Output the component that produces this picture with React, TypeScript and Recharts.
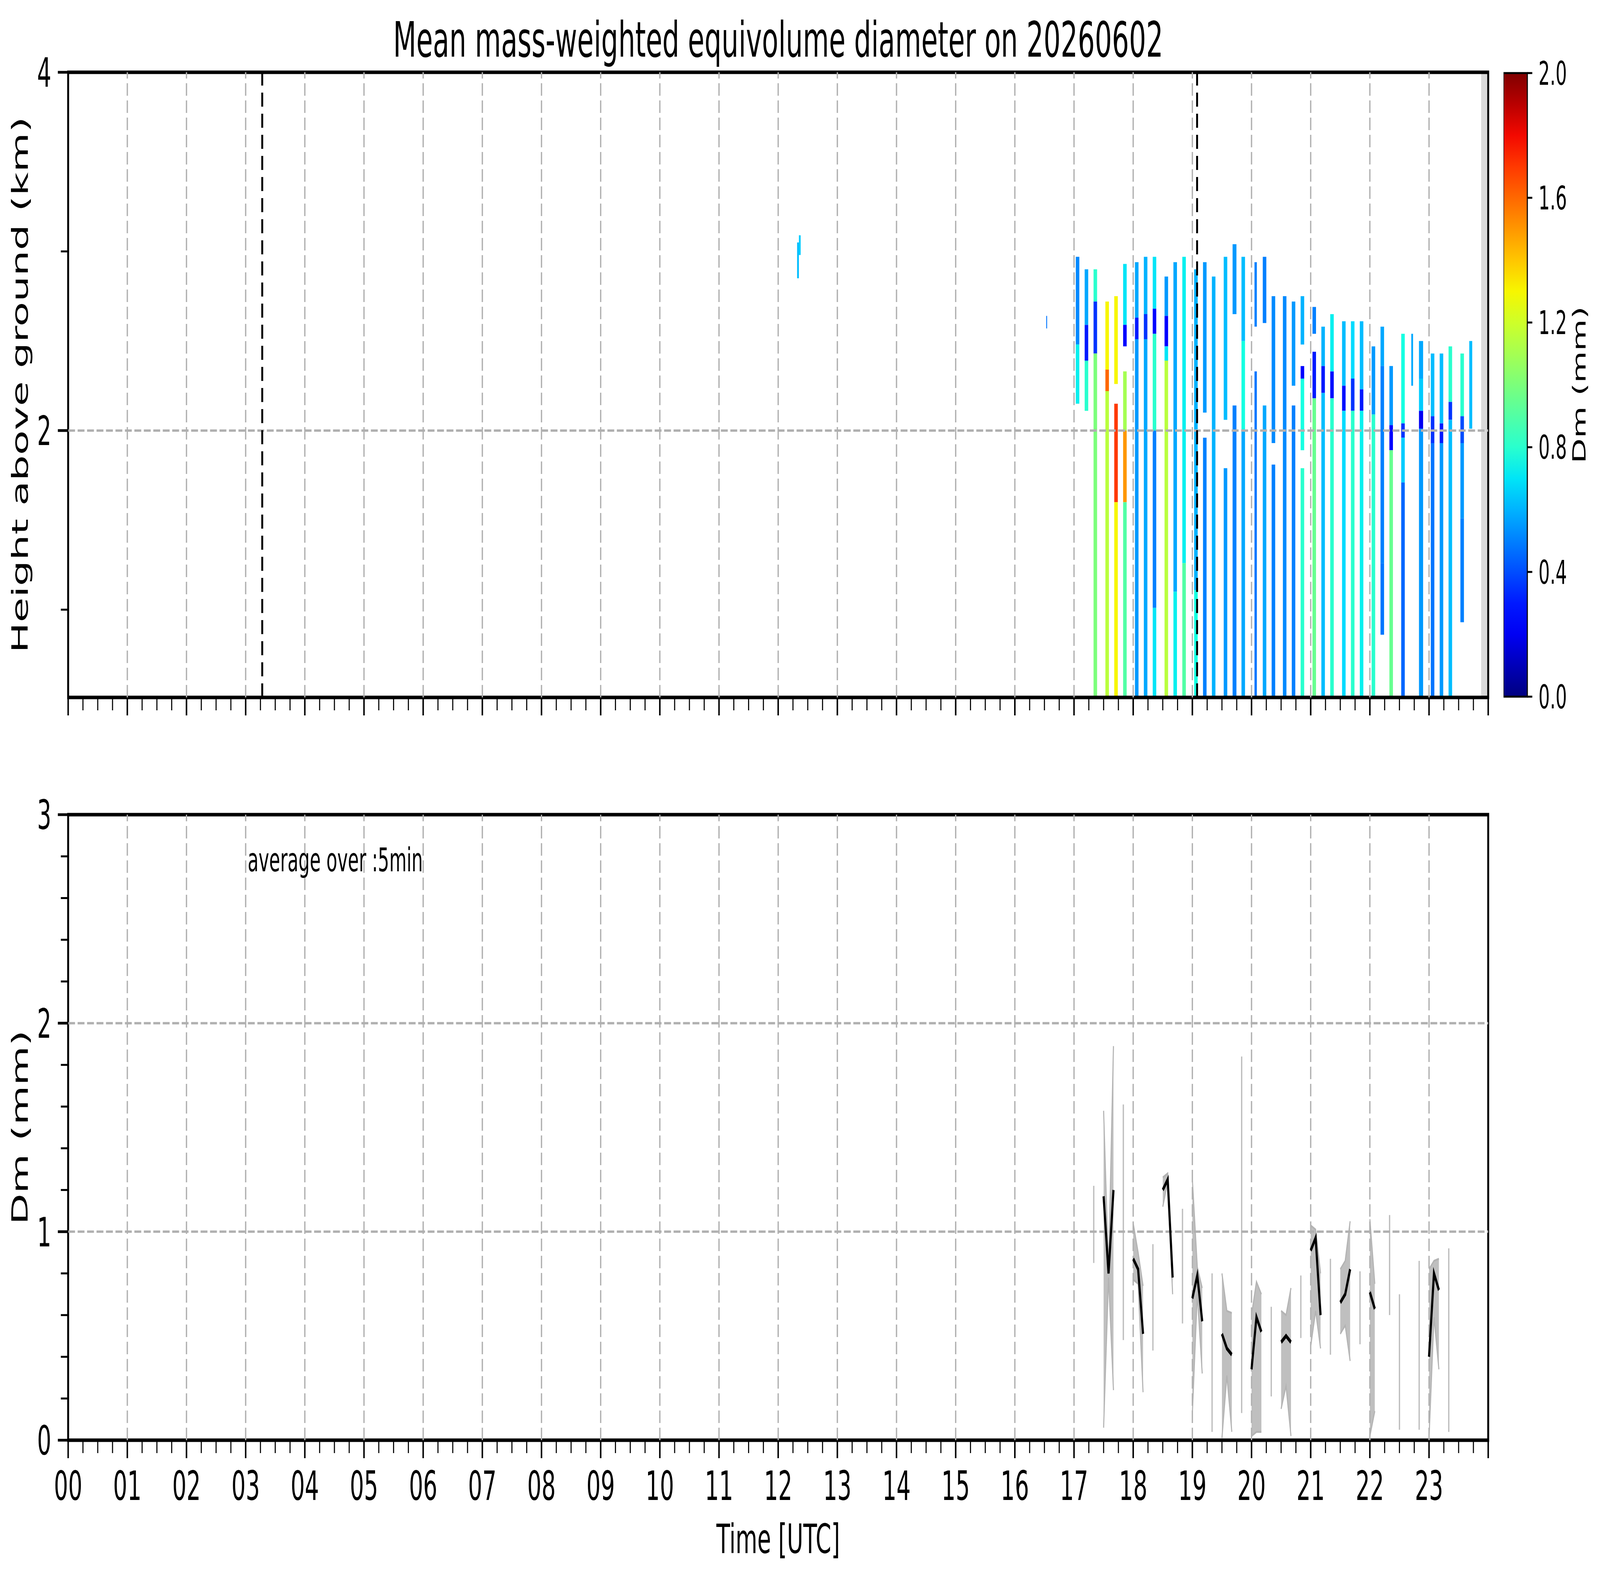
import React from 'react';
import {
  ComposedChart,
  BarChart,
  Bar,
  Area,
  Line,
  XAxis,
  YAxis,
  ReferenceArea,
  ReferenceLine,
} from 'recharts';

// figure geometry (pixels of the 7442x4031 picture)
const FIG_W = 7442;
const FIG_H = 4031;
const FONT = '"DejaVu Sans", Verdana, sans-serif';
const PLOT_LEFT = 317;
const PLOT_RIGHT = 6922;
const AXIS_W = 100;
const AXIS_H = 60;
const TOP_CHART_H = 1900;
const TOP_PLOT_TOP = 185;
const TOP_PLOT_BOTTOM = 1785;
const BOTTOM_CHART_H = FIG_H - TOP_CHART_H;
const BOTTOM_PLOT_TOP = 2085;
const BOTTOM_PLOT_BOTTOM = 3686;
const CB_LEFT = 6993;
const CB_RIGHT = 7104;

// time axis
const hourLabels = [
  '00', '01', '02', '03', '04', '05', '06', '07', '08', '09', '10', '11',
  '12', '13', '14', '15', '16', '17', '18', '19', '20', '21', '22', '23',
];
const gridHours = [1, 2, 3, 4, 5, 6, 7, 8, 9, 10, 11, 12, 13, 14, 15, 16, 17, 18, 19, 20, 21, 22, 23];
const quarterTicks = Array.from({ length: 97 }, (_, i) => i / 4);

// upper panel: height above ground (km)
const heightMin = 0.51;
const heightMax = 4;
const heightTicks = [1, 2, 3, 4];
const heightLabelled = [2, 4];
const heightGrid = [2];

// sunrise / sunset markers and the no-data band at the end of the day
const dayMarks = [3.28, 19.08];
const noDataStart = 23.88;

// radar scans: start / end (hour UTC) and layers [top km, bottom km, Dm mm]
const stripeStart = [
  12.32, 12.35, 16.53,
  17.03, 17.18, 17.33, 17.53, 17.68, 17.83,
  18.03, 18.18, 18.33, 18.53, 18.68, 18.83,
  19.03, 19.18, 19.33, 19.53, 19.68, 19.83,
  20.05, 20.19, 20.34, 20.53, 20.68, 20.83,
  21.03, 21.18, 21.33, 21.53, 21.68, 21.83,
  22.03, 22.18, 22.33, 22.53, 22.7, 22.83,
  23.03, 23.18, 23.33, 23.53, 23.68,
];
const stripeEnd = [
  12.35, 12.38, 16.545,
  17.09, 17.24, 17.39, 17.59, 17.74, 17.89,
  18.09, 18.24, 18.39, 18.59, 18.74, 18.89,
  19.09, 19.24, 19.39, 19.59, 19.745, 19.89,
  20.09, 20.25, 20.4, 20.59, 20.74, 20.89,
  21.09, 21.24, 21.39, 21.59, 21.74, 21.89,
  22.09, 22.24, 22.39, 22.59, 22.73, 22.9,
  23.09, 23.24, 23.39, 23.59, 23.73,
];
const stripeLayers: number[][][] = [
  [[3.05, 2.85, 0.62]],
  [[3.09, 2.98, 0.65]],
  [[2.64, 2.57, 0.48]],
  // 17 UTC
  [[2.97, 2.48, 0.52], [2.48, 2.15, 0.72]],
  [[2.9, 2.59, 0.58], [2.59, 2.39, 0.3], [2.39, 2.11, 0.8]],
  [[2.9, 2.72, 0.8], [2.72, 2.43, 0.35], [2.43, 0.51, 1.0]],
  [[2.72, 2.34, 1.3], [2.34, 2.22, 1.6], [2.22, 0.51, 1.15]],
  [[2.75, 2.26, 1.3], [2.15, 1.6, 1.7], [1.6, 0.51, 1.3]],
  [[2.93, 2.59, 0.7], [2.59, 2.47, 0.25], [2.33, 2.0, 1.1], [2.0, 1.6, 1.5], [1.6, 0.51, 0.9]],
  // 18 UTC
  [[2.94, 2.63, 0.58], [2.63, 2.51, 0.3], [2.51, 0.51, 0.55]],
  [[2.97, 2.65, 0.6], [2.65, 2.51, 0.35], [2.51, 0.51, 0.58]],
  [[2.97, 2.68, 0.7], [2.68, 2.54, 0.22], [2.54, 2.0, 0.8], [2.0, 1.01, 0.5], [1.01, 0.51, 0.7]],
  [[2.86, 2.64, 0.55], [2.64, 2.47, 0.22], [2.47, 2.39, 0.7], [2.39, 0.51, 1.15]],
  [[2.94, 1.1, 0.58], [1.1, 0.51, 0.72]],
  [[2.97, 1.26, 0.72], [1.26, 0.51, 0.9]],
  // 19 UTC
  [[2.9, 1.11, 0.6], [1.11, 0.51, 0.75]],
  [[2.94, 2.1, 0.55], [1.96, 0.51, 0.5]],
  [[2.86, 0.51, 0.6]],
  [[2.97, 2.06, 0.62], [1.79, 0.51, 0.55]],
  [[3.04, 2.65, 0.55], [2.14, 0.51, 0.5]],
  [[2.97, 2.5, 0.62], [2.5, 2.0, 0.75], [2.0, 0.51, 0.58]],
  // 20 UTC
  [[2.94, 2.58, 0.5], [2.33, 0.51, 0.48]],
  [[2.97, 2.6, 0.5], [2.14, 0.51, 0.58]],
  [[2.75, 1.93, 0.52], [1.81, 0.51, 0.5]],
  [[2.75, 0.51, 0.52]],
  [[2.72, 2.25, 0.55], [2.14, 0.51, 0.5]],
  [[2.75, 2.48, 0.6], [2.36, 2.29, 0.25], [2.29, 1.89, 0.75], [1.79, 0.51, 0.8]],
  // 21 UTC
  [[2.69, 2.54, 0.5], [2.44, 2.18, 0.3], [2.18, 0.51, 0.95]],
  [[2.58, 2.36, 0.6], [2.36, 2.21, 0.3], [2.21, 0.51, 0.62]],
  [[2.65, 2.33, 0.72], [2.33, 2.18, 0.28], [2.18, 0.51, 0.8]],
  [[2.61, 2.25, 0.62], [2.25, 2.11, 0.28], [2.11, 0.51, 0.68]],
  [[2.61, 2.29, 0.68], [2.29, 2.11, 0.35], [2.11, 0.51, 0.8]],
  [[2.61, 2.23, 0.62], [2.23, 2.11, 0.3], [2.11, 0.51, 0.72]],
  // 22 UTC
  [[2.47, 2.09, 0.55], [2.09, 0.51, 0.8]],
  [[2.58, 2.36, 0.58], [2.36, 1.26, 0.5], [1.26, 0.86, 0.48]],
  [[2.36, 2.03, 0.55], [2.03, 1.89, 0.25], [1.89, 0.51, 0.95]],
  [[2.54, 2.04, 0.75], [2.04, 1.96, 0.35], [1.96, 1.71, 0.65], [1.71, 0.51, 0.45]],
  [[2.54, 2.25, 0.58]],
  [[2.5, 2.29, 0.58], [2.29, 2.11, 0.65], [2.11, 2.01, 0.2], [2.01, 0.51, 0.55]],
  // 23 UTC
  [[2.43, 2.08, 0.62], [2.08, 1.93, 0.35], [1.93, 0.51, 0.48]],
  [[2.43, 2.04, 0.62], [2.04, 1.93, 0.3], [1.93, 0.51, 0.55]],
  [[2.47, 2.16, 0.8], [2.16, 2.06, 0.35], [2.06, 0.51, 0.62]],
  [[2.43, 2.08, 0.8], [2.08, 1.93, 0.4], [1.93, 1.51, 0.55], [1.51, 0.93, 0.5]],
  [[2.5, 2.01, 0.62]],
];

// lower panel: 5-minute Dm statistics (minutes of the day, mm)
const dmMinutes = [
  1040, 1050, 1055, 1060, 1070, 1080, 1085, 1090, 1100, 1110, 1115, 1120, 1130,
  1140, 1145, 1150, 1160, 1170, 1175, 1180, 1190, 1200, 1205, 1210, 1220, 1230,
  1235, 1240, 1250, 1260, 1265, 1270, 1280, 1290, 1295, 1300, 1310, 1320, 1325,
  1340, 1350, 1370, 1380, 1385, 1390, 1400,
];
const dmLow = [
  0.85, 0.06, 0.78, 0.24, 0.48, 0.77, 0.75, 0.23, 0.43, 1.12, 1.24, 0.7, 0.56,
  0.13, 0.7, 0.32, 0.04, 0.01, 0.31, 0.04, 0.13, 0.02, 0.04, 0.04, 0.21, 0.15,
  0.26, 0.02, 0.49, 0.45, 0.62, 0.44, 0.41, 0.51, 0.55, 0.38, 0.46, 0.02, 0.14,
  0.6, 0.05, 0.05, 0.01, 0.59, 0.34, 0.04,
];
const dmHigh = [
  1.22, 1.58, 0.82, 1.89, 1.61, 1.04, 0.9, 0.74, 0.94, 1.26, 1.28, 0.8, 1.11,
  1.25, 0.83, 0.73, 0.8, 0.8, 0.62, 0.61, 1.84, 0.6, 0.76, 0.7, 0.64, 0.62,
  0.6, 0.73, 0.79, 1.03, 1.01, 0.8, 0.87, 0.82, 0.86, 1.05, 0.81, 1.06, 0.75,
  1.08, 0.7, 0.86, 0.82, 0.86, 0.87, 0.92,
];
const dmMean = [
  null, 1.17, 0.8, 1.2, null, 0.87, 0.82, 0.51, null, 1.2, 1.25, 0.78, null,
  0.68, 0.79, 0.57, null, 0.51, 0.44, 0.41, null, 0.34, 0.59, 0.52, null, 0.47,
  0.5, 0.47, null, 0.91, 0.97, 0.6, null, 0.66, 0.7, 0.82, null, 0.71, 0.63,
  null, null, null, 0.4, 0.8, 0.72, null,
];
const dmTicks = [0, 0.2, 0.4, 0.6, 0.8, 1, 1.2, 1.4, 1.6, 1.8, 2, 2.2, 2.4, 2.6, 2.8, 3];
const dmGrid = [1, 2];

// colour bar
const DM_MAX = 2;
const cbTicks = [0, 0.4, 0.8, 1.2, 1.6, 2.0];

// matplotlib "jet"
const JET_R = [[0, 0], [0.35, 0], [0.66, 1], [0.89, 1], [1, 0.5]];
const JET_G = [[0, 0], [0.125, 0], [0.375, 1], [0.64, 1], [0.91, 0], [1, 0]];
const JET_B = [[0, 0.5], [0.11, 1], [0.34, 1], [0.65, 0], [1, 0]];

function ramp(stops: number[][], v: number) {
  for (let i = 1; i < stops.length; i++) {
    const [x0, y0] = stops[i - 1];
    const [x1, y1] = stops[i];
    if (v <= x1) return y0 + ((y1 - y0) * (v - x0)) / (x1 - x0);
  }
  return stops[stops.length - 1][1];
}

function jet(dm: number) {
  const v = Math.min(1, Math.max(0, dm / DM_MAX));
  const c = (s: number[][]) => Math.round(255 * ramp(s, v));
  return `rgb(${c(JET_R)},${c(JET_G)},${c(JET_B)})`;
}

const cells = stripeLayers.flatMap((layers, i) =>
  layers.map(([top, bottom, dm], j) => ({
    key: `c${i}-${j}`,
    x1: stripeStart[i],
    x2: stripeEnd[i],
    y1: bottom,
    y2: top,
    dm,
  })),
);

// rows for the lower panel, with a null row wherever the 5-min series breaks
const dmRows: { t: number; range: number[] | null; mean: number | null }[] = [];
dmMinutes.forEach((m, i) => {
  if (i > 0 && m - dmMinutes[i - 1] > 5) {
    dmRows.push({ t: (dmMinutes[i - 1] + 5) / 60, range: null, mean: null });
  }
  dmRows.push({ t: m / 60, range: [dmLow[i], dmHigh[i]], mean: dmMean[i] });
});
const isolated = dmMinutes
  .map((m, i) => ({ t: m / 60, lo: dmLow[i], hi: dmHigh[i], i }))
  .filter(({ i }) => {
    const prevGap = i === 0 || dmMinutes[i] - dmMinutes[i - 1] > 5;
    const nextGap = i === dmMinutes.length - 1 || dmMinutes[i + 1] - dmMinutes[i] > 5;
    return prevGap && nextGap;
  });

const TimeTick = ({ x, y, payload, showLabels }: any) => {
  const v = payload.value;
  const major = Number.isInteger(v);
  return (
    <g>
      <line x1={x} x2={x} y1={y} y2={y + (major ? 46 : 33)} stroke="#000" strokeWidth={major ? 7 : 5} />
      {showLabels && major && v < 24 && (
        <text x={x} y={y + 153} textAnchor="middle" fontSize={104} fontFamily={FONT} fill="#000">
          {hourLabels[v]}
        </text>
      )}
    </g>
  );
};

const ValueTick = ({ x, y, payload, labelled }: any) => {
  const v = payload.value;
  const major = labelled.includes(v);
  return (
    <g>
      <line x1={x - (major ? 48 : 34)} x2={x} y1={y} y2={y} stroke="#000" strokeWidth={major ? 7 : 5} />
      {major && (
        <text x={x - 78} y={y} dy="0.36em" textAnchor="end" fontSize={104} fontFamily={FONT} fill="#000">
          {v}
        </text>
      )}
    </g>
  );
};

const ColorbarTick = ({ x, y, payload }: any) => (
  <g>
    <line x1={x} x2={x + 23} y1={y} y2={y} stroke="#000" strokeWidth={5} />
    <text x={x + 52} y={y} dy="0.36em" textAnchor="start" fontSize={83} fontFamily={FONT} fill="#000">
      {payload.value.toFixed(1)}
    </text>
  </g>
);

const gridStyle = { stroke: '#b0b0b0', strokeWidth: 6, strokeDasharray: '32 12' };

const HeightPanel = () => (
  <ComposedChart
    width={FIG_W}
    height={TOP_CHART_H}
    data={cells.map((c) => ({ t: c.x1 }))}
    margin={{
      top: TOP_PLOT_TOP,
      right: FIG_W - PLOT_RIGHT,
      bottom: TOP_CHART_H - TOP_PLOT_BOTTOM - AXIS_H,
      left: PLOT_LEFT - AXIS_W,
    }}
  >
    <XAxis
      type="number"
      dataKey="t"
      domain={[0, 24]}
      ticks={quarterTicks}
      interval={0}
      allowDataOverflow
      axisLine={false}
      tickLine={false}
      tickSize={0}
      tickMargin={0}
      height={AXIS_H}
      tick={(p: any) => <TimeTick {...p} showLabels={false} />}
    />
    <YAxis
      type="number"
      domain={[heightMin, heightMax]}
      ticks={heightTicks}
      interval={0}
      allowDataOverflow
      axisLine={false}
      tickLine={false}
      tickSize={0}
      tickMargin={0}
      width={AXIS_W}
      tick={(p: any) => <ValueTick {...p} labelled={heightLabelled} />}
    />
    {cells.map((c) => (
      <ReferenceArea
        key={c.key}
        x1={c.x1}
        x2={c.x2}
        y1={c.y1}
        y2={c.y2}
        fill={jet(c.dm)}
        fillOpacity={1}
        stroke="none"
      />
    ))}
    <ReferenceArea
      x1={noDataStart}
      x2={24}
      y1={heightMin}
      y2={heightMax}
      fill="#d9d9d9"
      fillOpacity={1}
      stroke="none"
    />
    {gridHours.map((h) => (
      <ReferenceLine key={`gx${h}`} x={h} {...gridStyle} />
    ))}
    {heightGrid.map((v) => (
      <ReferenceLine key={`gy${v}`} y={v} {...gridStyle} />
    ))}
    {dayMarks.map((h) => (
      <ReferenceLine key={`d${h}`} x={h} stroke="#000" strokeWidth={9} strokeDasharray="36 18" />
    ))}
    <ReferenceArea
      x1={0}
      x2={24}
      y1={heightMin}
      y2={heightMax}
      fill="none"
      fillOpacity={0}
      stroke="#000"
      strokeWidth={9}
    />
  </ComposedChart>
);

const DmPanel = () => (
  <ComposedChart
    width={FIG_W}
    height={BOTTOM_CHART_H}
    data={dmRows}
    margin={{
      top: BOTTOM_PLOT_TOP - TOP_CHART_H,
      right: FIG_W - PLOT_RIGHT,
      bottom: FIG_H - BOTTOM_PLOT_BOTTOM - AXIS_H,
      left: PLOT_LEFT - AXIS_W,
    }}
  >
    <XAxis
      type="number"
      dataKey="t"
      domain={[0, 24]}
      ticks={quarterTicks}
      interval={0}
      allowDataOverflow
      axisLine={false}
      tickLine={false}
      tickSize={0}
      tickMargin={0}
      height={AXIS_H}
      tick={(p: any) => <TimeTick {...p} showLabels />}
    />
    <YAxis
      type="number"
      domain={[0, 3]}
      ticks={dmTicks}
      interval={0}
      allowDataOverflow
      axisLine={false}
      tickLine={false}
      tickSize={0}
      tickMargin={0}
      width={AXIS_W}
      tick={(p: any) => <ValueTick {...p} labelled={[0, 1, 2, 3]} />}
    />
    <Area
      dataKey="range"
      type="linear"
      fill="#bfbfbf"
      fillOpacity={1}
      stroke="#b3b3b3"
      strokeWidth={5}
      connectNulls={false}
      dot={false}
      activeDot={false}
      isAnimationActive={false}
    />
    {isolated.map((p) => (
      <ReferenceLine
        key={`iso${p.i}`}
        segment={[{ x: p.t, y: p.lo }, { x: p.t, y: p.hi }]}
        stroke="#bdbdbd"
        strokeWidth={6}
      />
    ))}
    {gridHours.map((h) => (
      <ReferenceLine key={`gx${h}`} x={h} {...gridStyle} />
    ))}
    {dmGrid.map((v) => (
      <ReferenceLine key={`gy${v}`} y={v} {...gridStyle} />
    ))}
    <Line
      dataKey="mean"
      type="linear"
      stroke="#000"
      strokeWidth={10}
      dot={false}
      activeDot={false}
      connectNulls={false}
      isAnimationActive={false}
    />
    <ReferenceArea
      x1={0}
      x2={24}
      y1={0}
      y2={3}
      fill="none"
      fillOpacity={0}
      stroke="#000"
      strokeWidth={9}
    />
  </ComposedChart>
);

const cbWidth = FIG_W - CB_LEFT;
const jetStops = Array.from({ length: 21 }, (_, i) => i / 20);

const ColorBar = () => (
  <BarChart
    width={cbWidth}
    height={TOP_CHART_H}
    data={[{ name: 'Dm', range: [0, DM_MAX] }]}
    barCategoryGap={0}
    margin={{
      top: TOP_PLOT_TOP + 2,
      right: cbWidth - (CB_RIGHT - CB_LEFT) - 200,
      bottom: TOP_CHART_H - TOP_PLOT_BOTTOM + 2,
      left: 0,
    }}
  >
    <defs>
      <linearGradient id="jetGradient" x1="0" y1="1" x2="0" y2="0">
        {jetStops.map((s) => (
          <stop key={s} offset={s} stopColor={jet(s * DM_MAX)} />
        ))}
      </linearGradient>
    </defs>
    <XAxis dataKey="name" hide />
    <YAxis
      orientation="right"
      type="number"
      domain={[0, DM_MAX]}
      ticks={cbTicks}
      interval={0}
      axisLine={false}
      tickLine={false}
      tickSize={0}
      tickMargin={0}
      width={200}
      tick={(p: any) => <ColorbarTick {...p} />}
    />
    <Bar dataKey="range" fill="url(#jetGradient)" stroke="#000" strokeWidth={5} isAnimationActive={false} />
  </BarChart>
);

// the photographed viewport may not be 7442x4031 CSS px: stretch the figure onto it
function viewportScale() {
  if (typeof window === 'undefined' || !window.innerWidth || !window.innerHeight) {
    return { sx: 1, sy: 1 };
  }
  return { sx: window.innerWidth / FIG_W, sy: window.innerHeight / FIG_H };
}

export default function App() {
  const midX = (PLOT_LEFT + PLOT_RIGHT) / 2;
  const { sx, sy } = viewportScale();
  return (
    <div style={{ width: FIG_W * sx, height: FIG_H * sy, overflow: 'hidden' }}>
      <style>{'html,body{margin:0;padding:0;overflow:hidden;background:#fff}'}</style>
      <div
        style={{
          position: 'relative',
          width: FIG_W,
          height: FIG_H,
          background: '#fff',
          fontFamily: FONT,
          transform: `scale(${sx}, ${sy})`,
          transformOrigin: '0 0',
        }}
      >
        <div style={{ position: 'absolute', left: 0, top: 0 }}>
          <HeightPanel />
        </div>
        <div style={{ position: 'absolute', left: 0, top: TOP_CHART_H }}>
          <DmPanel />
        </div>
        <div style={{ position: 'absolute', left: CB_LEFT, top: 0 }}>
          <ColorBar />
        </div>
        <svg
          width={FIG_W}
          height={FIG_H}
          style={{ position: 'absolute', left: 0, top: 0, pointerEvents: 'none' }}
        >
          <g fontFamily={FONT} fill="#000">
            <text x={midX} y={145} textAnchor="middle" fontSize={125}>
              Mean mass-weighted equivolume diameter on 20260602
            </text>
            <text
              transform={`translate(129,${(TOP_PLOT_TOP + TOP_PLOT_BOTTOM) / 2}) rotate(-90)`}
              textAnchor="middle"
              fontSize={104}
            >
              Height above ground (km)
            </text>
            <text
              transform={`translate(129,${(BOTTOM_PLOT_TOP + BOTTOM_PLOT_BOTTOM) / 2}) rotate(-90)`}
              textAnchor="middle"
              fontSize={104}
            >
              Dm (mm)
            </text>
            <text
              transform={`translate(7375,${(TOP_PLOT_TOP + TOP_PLOT_BOTTOM) / 2}) rotate(-90)`}
              textAnchor="middle"
              fontSize={84}
            >
              Dm (mm)
            </text>
            <text x={midX} y={3975} textAnchor="middle" fontSize={104}>
              Time [UTC]
            </text>
            <text x={1152} y={2230} fontSize={83}>
              average over :5min
            </text>
          </g>
        </svg>
      </div>
    </div>
  );
}
